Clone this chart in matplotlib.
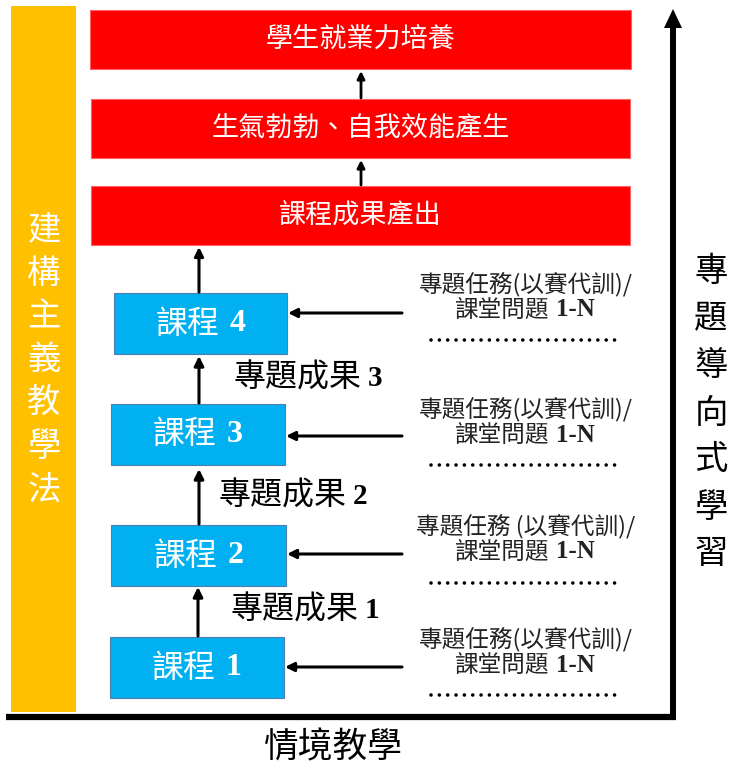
import matplotlib.pyplot as plt
from matplotlib.patches import Rectangle

plt.rcParams['font.family'] = ['Noto Sans CJK TC', 'DejaVu Sans']

# labels
outcome_labels = ["學生就業力培養", "生氣勃勃、自我效能產生", "課程成果產出"]
course_names = ["課程", "課程", "課程", "課程"]
course_nums = ["4", "3", "2", "1"]
result_names = ["專題成果", "專題成果", "專題成果"]
result_nums = ["3", "2", "1"]
task_line1 = ["專題任務(以賽代訓)/", "專題任務(以賽代訓)/", "專題任務 (以賽代訓)/", "專題任務(以賽代訓)/"]
task_line2 = ["課堂問題"] * 4
task_nums = ["1-N"] * 4
left_label = "建構主義教學法"
right_label = "專題導向式學習"
bottom_label = "情境教學"

# layout (pixel coords, y down)
red_boxes = [(90, 10, 541, 59), (91, 99, 539, 59), (91, 186, 539, 59)]
blue_boxes = [(114, 293, 173, 61), (111, 404, 174, 61), (111, 525, 175, 61), (110, 637, 174, 61)]
task_arrow_y = [313, 436, 554, 667]
task_y = [(284, 310, 340), (409, 435, 465), (526, 552, 583), (639, 665, 695)]
result_pos = [(305, 378), (290, 496), (302, 610)]

RED = "#FF0000"
BLUE = "#00B0F0"
YELLOW = "#FFC000"

fig = plt.figure(figsize=(7.29, 7.71), dpi=100)
ax = fig.add_axes([0, 0, 1, 1])
ax.set_xlim(0, 729)
ax.set_ylim(771, 0)
ax.axis("off")


def arrow(x0, y0, x1, y1, lw=2.2, ms=14):
    ax.annotate("", xy=(x1, y1), xytext=(x0, y0),
                arrowprops=dict(arrowstyle="-|>", color="black", lw=lw,
                                mutation_scale=ms, shrinkA=0, shrinkB=0))


def split_text(x_end, x_start, y, name, num, color, size, num_size=None):
    ax.text(x_end, y, name, color=color, fontsize=size, ha="right", va="center")
    ax.text(x_start, y, num, color=color, fontsize=num_size or size, ha="left",
            va="center", fontweight="bold", family=["Liberation Serif", "DejaVu Serif"])


# yellow side bar
ax.add_patch(Rectangle((11, 6), 65, 706, color=YELLOW, lw=0))
for i, ch in enumerate(left_label):
    ax.text(44, 230 + i * 43.3, ch, color="white", fontsize=24,
            ha="center", va="center")

# red outcome boxes
for (x, y, w, h), lab in zip(red_boxes, outcome_labels):
    ax.add_patch(Rectangle((x, y), w, h, facecolor=RED, edgecolor="#FF6060", lw=0.8))
    ax.text(x + w / 2, y + h / 2, lab, color="white", fontsize=19.5,
            ha="center", va="center")

arrow(361, 98, 361, 71, lw=2, ms=11)
arrow(361, 185, 361, 160, lw=2, ms=11)
arrow(199, 292, 199, 247, lw=2.2, ms=13)

# blue course boxes
for (x, y, w, h), name, num in zip(blue_boxes, course_names, course_nums):
    ax.add_patch(Rectangle((x, y), w, h, facecolor=BLUE, edgecolor="#4A7FB0", lw=0.8))
    cx = x + w / 2
    split_text(cx + 19, cx + 29, y + h / 2, name, num, "white", 23)

# vertical arrows between courses
arrow(199, 403, 199, 356)
arrow(199, 524, 199, 469)
arrow(198, 636, 198, 587)

for (x, y), name, num in zip(result_pos, result_names, result_nums):
    split_text(x + 57, x + 63, y, name, num, "black", 23, 21)

# tasks on the right with arrows into the courses
for (x, y, w, h), ya, (y1, y2, yd), l1, l2, n in zip(
        blue_boxes, task_arrow_y, task_y, task_line1, task_line2, task_nums):
    arrow(402, ya, x + w + 1, ya, lw=2.2, ms=13)
    ax.text(526, y1, l1, color="#222222", fontsize=17, ha="center", va="center")
    split_text(549, 556, y2, l2, n, "#222222", 17, 18)
    ax.plot([431, 617], [yd, yd], color="black", lw=2.6,
            linestyle=(0, (0.01, 2.3)), dash_capstyle="round")

# big axes
ax.plot([6, 676], [717, 717], color="black", lw=4.5, solid_capstyle="butt")
ax.plot([673, 673], [719, 26], color="black", lw=4.3, solid_capstyle="butt")
ax.add_patch(plt.Polygon([(664, 28), (682, 28), (673, 9)], color="black", lw=0))

ax.text(333, 748, bottom_label, color="black", fontsize=25, ha="center", va="center")
for i, ch in enumerate(right_label):
    ax.text(711, 272 + i * 47, ch, color="black", fontsize=24,
            ha="center", va="center")

fig.savefig("out.png", dpi=100, facecolor="white")
